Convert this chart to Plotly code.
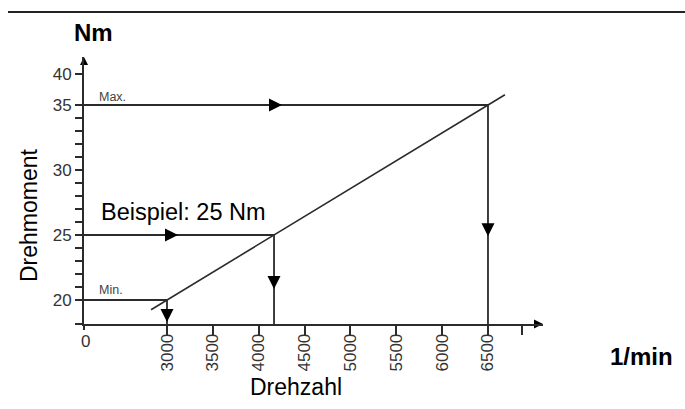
import plotly.graph_objects as go

# ---------------- data ----------------
rpm_tick_vals = [3000, 3500, 4000, 4500, 5000, 5500, 6000, 6500]
rpm_tick_text = ["3000", "3500", "4000", "4500", "5000", "5500", "6000", "6500"]
rpm_extra_tick = 6871          # unlabeled last tick (schematic "7000")
rpm_origin = 2095              # axis origin, labelled "0"
rpm_end = 7100                 # x arrow tip

torque_tick_vals = [20, 25, 30, 35, 37.38]
torque_tick_text = ["20", "25", "30", "35", "40"]
torque_minor = [21, 22, 23, 24, 26, 27, 28, 29, 31, 32, 33, 34]
torque_origin = 18.154
torque_end = 38.69

# characteristic line (torque vs. speed)
char_rpm = [2826, 6685]
char_nm = [19.25, 35.79]

# operating points
min_rpm, min_nm = 3000, 20
ex_rpm, ex_nm = 4167, 25
max_rpm, max_nm = 6500, 35

# arrow tips along the guide lines
harrow_rpm = [4254, 3120]
harrow_nm = [35, 25]
varrow_rpm = [6500, 4167, 3000]
varrow_nm = [24.9, 20.85, 18.3]

# ---------------- layout helpers ----------------
FIG_W, FIG_H = 685, 409
L, T, R, B = 84, 57, FIG_W - 543, FIG_H - 324
W = FIG_W - L - R
H = FIG_H - T - B


def px_x(p):
    return (p - L) / W


def px_y(p):
    return (FIG_H - B - p) / H


LINE = "#2b2b2b"
FONT = "Liberation Sans, Arial, sans-serif"

fig = go.Figure()

# characteristic line
fig.add_trace(go.Scatter(x=char_rpm, y=char_nm, mode="lines",
                         line=dict(color=LINE, width=1.6), hoverinfo="skip"))

# guide lines: horizontal from the torque axis to the curve, then down to the speed axis
for r, n in [(min_rpm, min_nm), (ex_rpm, ex_nm), (max_rpm, max_nm)]:
    fig.add_trace(go.Scatter(x=[rpm_origin, r, r], y=[n, n, torque_origin], mode="lines",
                             line=dict(color=LINE, width=1.8), hoverinfo="skip"))

# arrowheads on the guide lines
fig.add_trace(go.Scatter(x=harrow_rpm, y=harrow_nm, mode="markers", cliponaxis=False,
                         marker=dict(symbol="arrow-right", size=13, color="black",
                                     line=dict(width=0)), hoverinfo="skip"))
fig.add_trace(go.Scatter(x=varrow_rpm, y=varrow_nm, mode="markers", cliponaxis=False,
                         marker=dict(symbol="arrow-down", size=13, color="black",
                                     line=dict(width=0)), hoverinfo="skip"))

# axis arrowheads
fig.add_trace(go.Scatter(x=[rpm_origin], y=[torque_end], mode="markers", cliponaxis=False,
                         marker=dict(symbol="arrow-up", size=8, color="black",
                                     line=dict(width=0)), hoverinfo="skip"))
fig.add_trace(go.Scatter(x=[rpm_end], y=[torque_origin], mode="markers", cliponaxis=False,
                         marker=dict(symbol="arrow-right", size=9, color="black",
                                     line=dict(width=0)), hoverinfo="skip"))

fig.update_layout(
    width=FIG_W, height=FIG_H, autosize=False,
    margin=dict(l=L, r=R, t=T, b=B, pad=0),
    paper_bgcolor="white", plot_bgcolor="white",
    showlegend=False,
    font=dict(family=FONT, color="#333", size=17),
    xaxis=dict(range=[rpm_origin, rpm_end], showgrid=False, zeroline=False,
               showline=True, linecolor=LINE, linewidth=1.8,
               tickmode="array", tickvals=rpm_tick_vals + [rpm_extra_tick],
               ticktext=rpm_tick_text + [""], tickangle=-90,
               ticks="outside", ticklen=9, tickwidth=1.8, tickcolor=LINE,
               ticklabelstandoff=-8,
               tickfont=dict(size=17, color="#333"),
               minor=dict(tickmode="array", tickvals=[rpm_origin], ticklen=4,
                          tickwidth=1.8, tickcolor=LINE, showgrid=False)),
    yaxis=dict(range=[torque_origin, torque_end], showgrid=False, zeroline=False,
               showline=True, linecolor=LINE, linewidth=1.8,
               tickmode="array", tickvals=torque_tick_vals + [torque_origin + 0.01],
               ticktext=torque_tick_text + [""],
               ticks="outside", ticklen=7, tickwidth=1.8, tickcolor=LINE,
               tickfont=dict(size=17, color="#333"),
               minor=dict(tickmode="array", tickvals=torque_minor, ticklen=7,
                          tickwidth=1.8, tickcolor=LINE, showgrid=False)),
)

ann = [
    dict(text="<b>Nm</b>", x=px_x(93), y=px_y(32), xanchor="center", yanchor="middle",
         font=dict(size=24, color="black")),
    dict(text="<b>1/min</b>", x=px_x(641), y=px_y(356), xanchor="center", yanchor="middle",
         font=dict(size=24, color="black")),
    dict(text="Drehzahl", x=px_x(296), y=px_y(387), xanchor="center", yanchor="middle",
         font=dict(size=23, color="black")),
    dict(text="Drehmoment", x=px_x(29), y=px_y(215), xanchor="center", yanchor="middle",
         textangle=-90, font=dict(size=23, color="black")),
    dict(text="Beispiel: 25 Nm", x=px_x(99), y=px_y(212), xanchor="left", yanchor="middle",
         font=dict(size=23.5, color="black")),
    dict(text="Max.", x=px_x(97), y=px_y(97), xanchor="left", yanchor="middle",
         font=dict(size=12.5, color="#444")),
    dict(text="Min.", x=px_x(97), y=px_y(290), xanchor="left", yanchor="middle",
         font=dict(size=12.5, color="#444")),
    dict(text="0", x=px_x(85), y=px_y(341), xanchor="center", yanchor="middle",
         font=dict(size=17, color="#333")),
]
for a in ann:
    a.update(xref="paper", yref="paper", showarrow=False)
fig.update_layout(annotations=ann)

# thin rule across the top of the figure
fig.add_shape(type="line", xref="paper", yref="paper",
              x0=px_x(8), x1=px_x(FIG_W), y0=px_y(12), y1=px_y(12),
              line=dict(color="#222", width=1.8))

fig.write_html("out.html", config={"displayModeBar": False},
               post_script="document.body.style.margin='0';document.body.style.overflow='hidden';")
